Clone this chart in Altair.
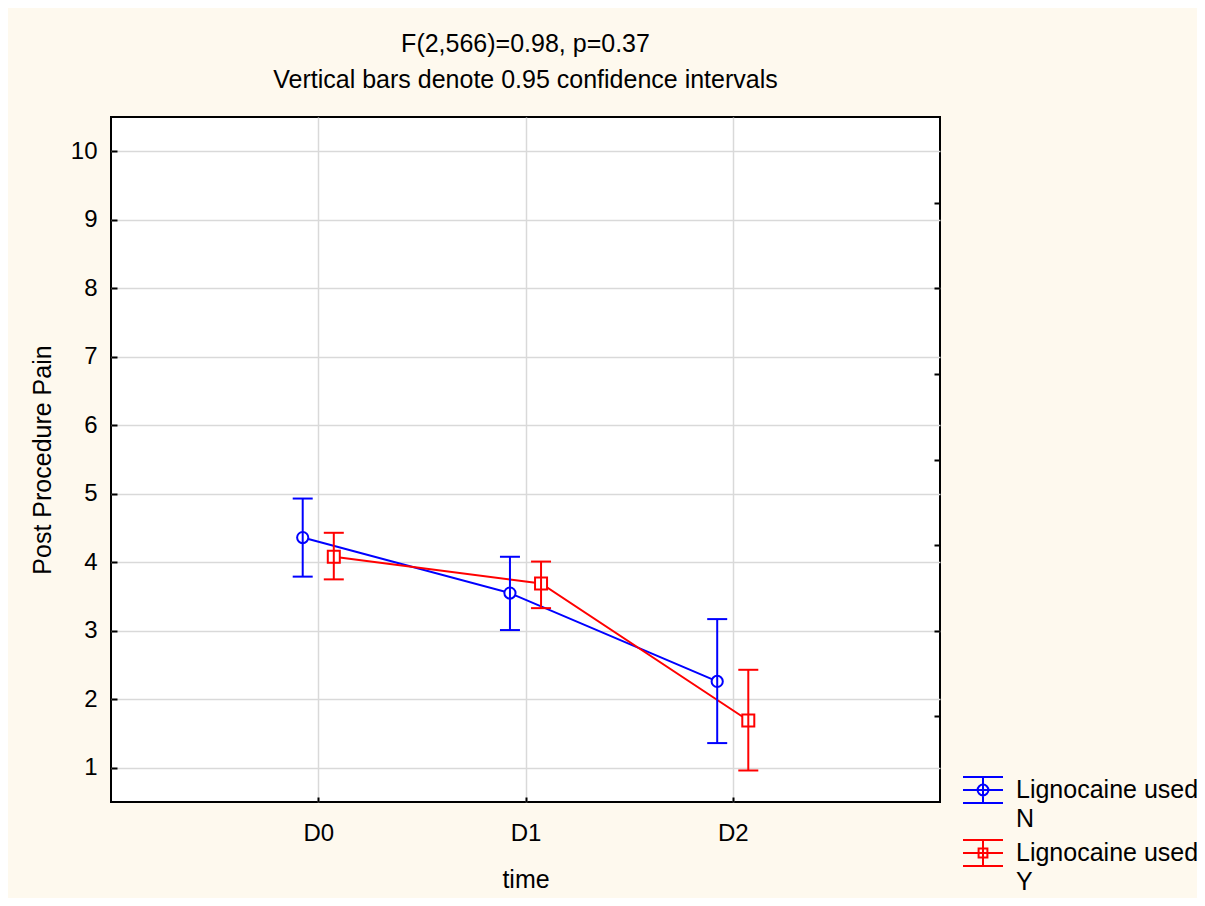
import altair as alt
import pandas as pd

# ---- data ----
times = ["D0", "D1", "D2"]
groups = ["N", "Y"]
group_label = "Lignocaine used"
mean_n = [4.36, 3.55, 2.26]
low_n = [3.79, 3.01, 1.36]
high_n = [4.93, 4.08, 3.17]
mean_y = [4.08, 3.69, 1.69]
low_y = [3.75, 3.33, 0.96]
high_y = [4.43, 4.01, 2.43]
y_ticks = list(range(1, 11))
title_lines = ["F(2,566)=0.98, p=0.37", "Vertical bars denote 0.95 confidence intervals"]

rows = []
for g, m, lo, hi in [("N", mean_n, low_n, high_n), ("Y", mean_y, low_y, high_y)]:
    for i, t in enumerate(times):
        rows.append({"time": t, "group": g, "mean": m[i], "low": lo[i], "high": hi[i]})
df = pd.DataFrame(rows)

FONT = "Liberation Sans"
BLUE = "#0000FF"
RED = "#FF0000"
GRID = "#D9D9D9"

times_arr = "[" + ",".join("'%s'" % t for t in times) + "]"
base = alt.Chart(df).transform_calculate(
    pos="indexof(%s, datum.time) + (datum.group == 'N' ? -0.075 : 0.075)" % times_arr
)

xscale = alt.Scale(domain=[-1, 3], nice=False, zero=False)
yscale = alt.Scale(domain=[0.5, 10.5], nice=False, zero=False)

x_axis = alt.Axis(
    values=[0, 1, 2], labelExpr="%s[datum.value]" % times_arr, title="time",
    grid=True, gridColor=GRID, gridWidth=1.5, domain=False,
    tickSize=5, offset=-5, tickWidth=2, tickColor="black",
    labelPadding=19, labelFontSize=24, labelFont=FONT, labelColor="black",
    titleFontSize=25, titleFont=FONT, titleFontWeight="normal", titleColor="black",
    titleBaseline="alphabetic", titleY=90, titleX=414.5,
)
y_axis = alt.Axis(
    values=y_ticks, title="Post Procedure Pain",
    grid=True, gridColor=GRID, gridWidth=1.5, domain=False,
    tickSize=6, offset=-6, tickWidth=2, tickColor="black",
    labelPadding=14, labelFontSize=24, labelFont=FONT, labelColor="black",
    titleFontSize=25, titleFont=FONT, titleFontWeight="normal", titleColor="black",
    titleBaseline="middle", titleAngle=-90, titleX=-75, titleY=342.5,
)
right_vals = [0.5 + 1.25 * k for k in range(1, 8)]
y_axis_right = alt.Axis(
    orient="right", values=right_vals, labels=False, grid=False, domain=False,
    tickSize=6, offset=-6, tickWidth=2, tickColor="black", title=None,
)

leg = alt.Legend(
    title=None, orient="none", legendX=851, legendY=652, padding=0,
    labelExpr="['%s', datum.label]" % group_label,
    labelFont=FONT, labelFontSize=25, labelColor="black", labelOffset=12,
    labelLimit=400,
    symbolSize=1600, symbolStrokeWidth=2, symbolFillColor="transparent",
    symbolOpacity=1, rowPadding=0,
)
color = alt.Color("group:N", scale=alt.Scale(domain=groups, range=[BLUE, RED]), legend=leg)

X = alt.X("pos:Q", scale=xscale, axis=x_axis)

path_n = ("M-1,-0.65H1M-1,0H1M-1,0.65H1M0,-0.65V0.65"
          "M0.27,0A0.27,0.27,0,1,1,-0.27,0A0.27,0.27,0,1,1,0.27,0")
path_y = "M-1,-0.65H1M-1,0H1M-1,0.65H1M0,-0.65V0.65M-0.22,-0.22H0.22V0.22H-0.22Z"
legend_layer = base.transform_filter("false").mark_point(filled=False, strokeWidth=2).encode(
    x=X, y=alt.Y("mean:Q", scale=yscale, axis=y_axis), color=color,
    shape=alt.Shape("group:N", scale=alt.Scale(domain=groups, range=[path_n, path_y]), legend=leg),
)

lines = base.mark_line(strokeWidth=2).encode(
    x=X, y=alt.Y("mean:Q", scale=yscale, axis=y_axis), color=color
)
pts_n = base.transform_filter("datum.group == 'N'").mark_point(
    shape="circle", size=125, filled=False, fill="white", fillOpacity=1, strokeWidth=2, opacity=1
).encode(x=X, y=alt.Y("mean:Q", scale=yscale, axis=y_axis), color=color)
pts_y = base.transform_filter("datum.group == 'Y'").mark_point(
    shape="square", size=144, filled=False, fill="white", fillOpacity=1, strokeWidth=2, opacity=1
).encode(x=X, y=alt.Y("mean:Q", scale=yscale, axis=y_axis), color=color)
bars = base.mark_rule(strokeWidth=2).encode(
    x=X, y=alt.Y("low:Q", scale=yscale, axis=y_axis), y2="high:Q", color=color
)
caps = base.transform_fold(["low", "high"], as_=["end", "val"]).mark_rule(
    strokeWidth=2, xOffset=-10, x2Offset=10
).encode(x=X, x2="pos:Q", y=alt.Y("val:Q", scale=yscale, axis=y_axis), color=color)

main = alt.layer(legend_layer, lines, pts_n, pts_y, bars, caps)

right = base.mark_line(opacity=0).encode(
    x=X, y=alt.Y("mean:Q", scale=yscale, axis=y_axis_right)
)

chart = alt.layer(main, right).resolve_axis(y="independent").properties(
    width=829, height=685,
    autosize=alt.AutoSizeParams(type="none"),
    padding={"left": 103, "top": 109, "right": 257, "bottom": 96},
    title=alt.Title(
        text=title_lines, fontSize=25, fontWeight="normal", font=FONT, color="black",
        lineHeight=36, anchor="middle", offset=24,
    ),
).configure(
    background="#FEF9EE", style={"guide-label": {"lineHeight": 29}}
).configure_view(
    stroke="black", strokeWidth=2, fill="white"
)

chart.save("out.html", embed_options={"renderer": "svg", "actions": False})
